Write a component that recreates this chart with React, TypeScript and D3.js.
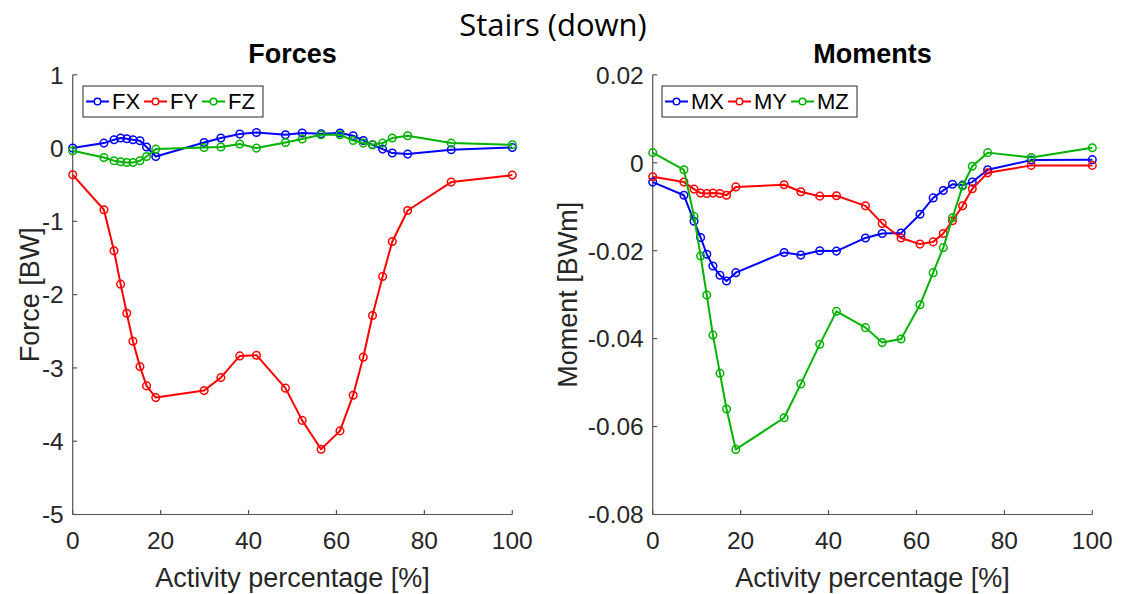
import React from "react";
import * as d3 from "d3";

const activityPct = [0, 7.1, 9.4, 10.9, 12.3, 13.7, 15.3, 16.8, 18.9, 29.9, 33.7, 38, 41.8, 48.4, 52.2, 56.5, 60.8, 63.8, 66.1, 68.2, 70.5, 72.7, 76.2, 86.1, 100];

const FX = [0, 0.068, 0.113, 0.137, 0.127, 0.113, 0.1, 0.014, -0.115, 0.076, 0.137, 0.191, 0.213, 0.182, 0.205, 0.195, 0.205, 0.168, 0.104, 0.045, -0.014, -0.068, -0.082, -0.023, 0.008];
const FY = [-0.365, -0.842, -1.402, -1.857, -2.253, -2.635, -2.982, -3.245, -3.405, -3.309, -3.132, -2.836, -2.826, -3.276, -3.716, -4.109, -3.859, -3.372, -2.853, -2.285, -1.753, -1.275, -0.852, -0.464, -0.369];
const FZ = [-0.037, -0.128, -0.173, -0.187, -0.197, -0.197, -0.173, -0.115, -0.014, 0.008, 0.014, 0.055, 0, 0.076, 0.123, 0.181, 0.181, 0.104, 0.068, 0.045, 0.068, 0.137, 0.168, 0.068, 0.045];

const MX = [-0.0044, -0.0074, -0.0133, -0.017, -0.0208, -0.0235, -0.0256, -0.0269, -0.025, -0.0204, -0.021, -0.02, -0.0201, -0.0171, -0.0161, -0.016, -0.0117, -0.008, -0.0063, -0.0049, -0.0051, -0.0044, -0.0016, 0.0006, 0.0007];
const MY = [-0.0032, -0.0044, -0.006, -0.0069, -0.007, -0.0069, -0.007, -0.0074, -0.0055, -0.005, -0.0066, -0.0076, -0.0075, -0.0098, -0.0138, -0.0171, -0.0185, -0.018, -0.0161, -0.0132, -0.0098, -0.0059, -0.0023, -0.0006, -0.0006];
const MZ = [0.0023, -0.0016, -0.0122, -0.0212, -0.0301, -0.0392, -0.0479, -0.056, -0.0652, -0.058, -0.0503, -0.0413, -0.0338, -0.0375, -0.0409, -0.0401, -0.0323, -0.025, -0.0193, -0.0125, -0.0053, -0.0008, 0.0023, 0.0012, 0.0034];

const xTicks = [0, 20, 40, 60, 80, 100];
const forceTicks = [1, 0, -1, -2, -3, -4, -5];
const forceTickLabels = ["1", "0", "-1", "-2", "-3", "-4", "-5"];
const momentTicks = [0.02, 0, -0.02, -0.04, -0.06, -0.08];
const momentTickLabels = ["0.02", "0", "-0.02", "-0.04", "-0.06", "-0.08"];

const forceNames = ["FX", "FY", "FZ"];
const momentNames = ["MX", "MY", "MZ"];
const colors = ["#0000ff", "#ff0000", "#00b400"];

const FONT = "'Liberation Sans', Arial, Helvetica, sans-serif";
const TXT = "#262626";
const AX = "#555555";

type PanelProps = {
  x0: number;
  x1: number;
  yDomain: [number, number];
  ticks: number[];
  tickLabels: string[];
  series: number[][];
  names: string[];
  title: string;
  ylabel: string;
  ylabelX: number;
  legendX: number;
  legendW: number;
};

function Panel(p: PanelProps) {
  const top = 74.8;
  const bottom = 514.5;
  const x = d3.scaleLinear().domain([0, 100]).range([p.x0, p.x1]);
  const y = d3.scaleLinear().domain(p.yDomain).range([bottom, top]);
  const line = d3
    .line<number>()
    .x((_, i) => x(activityPct[i]))
    .y((d) => y(d));
  const cx = (p.x0 + p.x1) / 2;
  const midY = (top + bottom) / 2;
  const legTop = 86;
  const legH = 31;
  const entryW = (p.legendW - 6) / 3;
  return (
    <g>
      {/* axes */}
      <line x1={p.x0} x2={p.x0} y1={top} y2={bottom} stroke={AX} strokeWidth={1.2} />
      <line x1={p.x0} x2={p.x1} y1={bottom} y2={bottom} stroke={AX} strokeWidth={1.2} />
      {p.ticks.map((t, i) => (
        <g key={"yt" + i}>
          <line x1={p.x0} x2={p.x0 + 4.5} y1={y(t)} y2={y(t)} stroke={AX} strokeWidth={1.2} />
          <text x={p.x0 - 9} y={y(t)} dy="0.36em" textAnchor="end" fontFamily={FONT} fontSize={24.5} fill={TXT}>
            {p.tickLabels[i]}
          </text>
        </g>
      ))}
      {xTicks.map((t) => (
        <g key={"xt" + t}>
          <line x1={x(t)} x2={x(t)} y1={bottom} y2={bottom - 4.5} stroke={AX} strokeWidth={1.2} />
          <text x={x(t)} y={549} textAnchor="middle" fontFamily={FONT} fontSize={24.5} fill={TXT}>
            {t}
          </text>
        </g>
      ))}
      <text x={cx} y={587} textAnchor="middle" fontFamily={FONT} fontSize={27} fill={TXT}>
        Activity percentage [%]
      </text>
      <text
        x={p.ylabelX}
        y={midY}
        textAnchor="middle"
        dy="0.36em"
        transform={`rotate(-90 ${p.ylabelX} ${midY})`}
        fontFamily={FONT}
        fontSize={27}
        fill={TXT}
      >
        {p.ylabel}
      </text>
      <text x={cx} y={63} textAnchor="middle" fontFamily={FONT} fontSize={27} fontWeight="bold" fill="#000">
        {p.title}
      </text>
      {/* series */}
      {p.series.map((s, si) => (
        <g key={"s" + si}>
          <path d={line(s) || ""} fill="none" stroke={colors[si]} strokeWidth={2} strokeLinejoin="round" />
          {s.map((v, i) => (
            <circle key={i} cx={x(activityPct[i])} cy={y(v)} r={3.8} fill="none" stroke={colors[si]} strokeWidth={1.5} />
          ))}
        </g>
      ))}
      {/* legend */}
      <rect x={p.legendX} y={legTop} width={p.legendW} height={legH} fill="#fff" stroke="#262626" strokeWidth={1} />
      {p.names.map((n, i) => {
        const ex = p.legendX + 3 + i * entryW;
        const ly = legTop + legH / 2;
        return (
          <g key={"lg" + n}>
            <line x1={ex} x2={ex + 23} y1={ly} y2={ly} stroke={colors[i]} strokeWidth={2} />
            <circle cx={ex + 11.5} cy={ly} r={3.3} fill="#fff" stroke={colors[i]} strokeWidth={1.5} />
            <text x={ex + 26} y={ly} dy="0.36em" fontFamily={FONT} fontSize={22} fill="#000">
              {n}
            </text>
          </g>
        );
      })}
    </g>
  );
}

export default function App() {
  return (
    <svg width={1121} height={594} style={{ position: "absolute", left: 0, top: 0, background: "#fff" }}>
      <rect x={0} y={0} width={1121} height={594} fill="#fff" />
      <text x={553} y={36} textAnchor="middle" fontFamily="'Open Sans', 'Noto Sans', sans-serif" fontSize={31} fill="#000">
        Stairs (down)
      </text>
      <Panel
        x0={72.7}
        x1={512.3}
        yDomain={[-5, 1]}
        ticks={forceTicks}
        tickLabels={forceTickLabels}
        series={[FX, FY, FZ]}
        names={forceNames}
        title="Forces"
        ylabel="Force [BW]"
        ylabelX={29}
        legendX={83}
        legendW={180}
      />
      <Panel
        x0={652.7}
        x1={1092.3}
        yDomain={[-0.08, 0.02]}
        ticks={momentTicks}
        tickLabels={momentTickLabels}
        series={[MX, MY, MZ]}
        names={momentNames}
        title="Moments"
        ylabel="Moment [BWm]"
        ylabelX={567}
        legendX={662}
        legendW={195}
      />
    </svg>
  );
}
